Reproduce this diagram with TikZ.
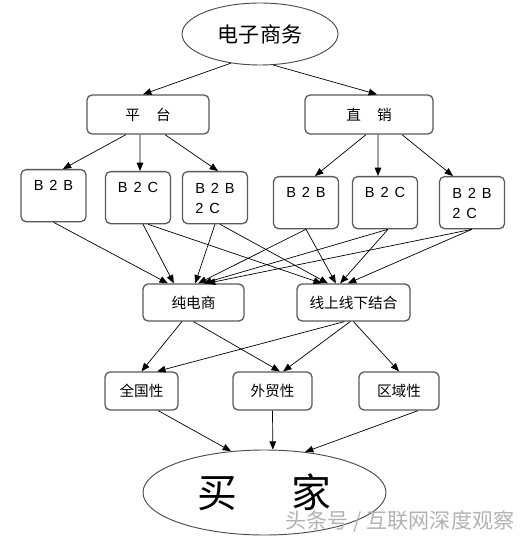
\documentclass[tikz,border=0pt]{standalone}
\usepackage{fontspec}
\setmainfont{Noto Sans CJK SC}
\newfontfamily\latin[LetterSpace=40]{Liberation Sans}
\usetikzlibrary{arrows.meta,shapes.geometric}

\tikzset{
  box/.style={draw=black!65, line width=1.1pt, rounded corners=1.5mm, inner sep=0pt, fill=white,
    minimum height=1.14cm, font=\fontsize{12.5}{14}\selectfont},
  sub/.style={box, anchor=north, minimum width=1.95cm, text height=0.62cm, text depth=0.94cm,
    align=left, font=\latin\fontsize{12.5}{17}\selectfont},
  subtwo/.style={sub, text height=1.25cm, text depth=0.31cm},
  oval/.style={draw=black!70, line width=0.8pt, ellipse, inner sep=0pt},
  arr/.style={-{Triangle[length=2.5mm,width=2mm]}, line width=0.6pt},
}

\begin{document}
\begin{tikzpicture}[x=0.03cm,y=-0.03cm]
\useasboundingbox (0,0) rectangle (531,539);

\node (dz) at (260,34) [oval,minimum width=4.68cm,minimum height=1.86cm,font=\fontsize{18}{18}\selectfont] {电子商务};
\node (pt) at (148,114.5) [box,minimum width=3.66cm,minimum height=1.17cm] {平\hspace{1.1em}台};
\node (zx) at (369,114.5) [box,minimum width=3.84cm,minimum height=1.17cm] {直\hspace{1.1em}销};

\node (pb1) at (53.5,169) [sub] {B2B};
\node (pc1) at (138,171) [sub] {B2C};
\node (pbc1) at (215,171) [subtwo] {B2B\\2C};
\node (pb2) at (306,176) [sub] {B2B};
\node (pc2) at (385,176) [sub] {B2C};
\node (pbc2) at (472,176) [subtwo] {B2B\\2C};

\node (cd) at (193.5,302.5) [box,minimum width=3.03cm,minimum height=1.11cm] {纯电商};
\node (xs) at (353.5,302.5) [box,minimum width=3.39cm,minimum height=1.11cm] {线上线下结合};

\node (qg) at (141.5,391) [box,minimum width=2.19cm] {全国性};
\node (wm) at (272.5,391) [box,minimum width=2.37cm] {外贸性};
\node (qy) at (399,391) [box,minimum width=2.4cm] {区域性};

\node (mj) at (264.5,492.5) [oval,minimum width=7.29cm,minimum height=2.55cm,font=\fontsize{34}{34}\selectfont] {买\hspace{1.35em}家};

\draw [arr] (dz.225) -- ([xshift=-0.15cm]pt.north);
\draw [arr] (dz.293) -- ([xshift=0.24cm]zx.north);

\draw [arr] ([xshift=-0.66cm]pt.south) -- ([xshift=0.28cm]pb1.north);
\draw [arr] ([xshift=-0.24cm]pt.south) -- ([xshift=0.06cm]pc1.north);
\draw [arr] ([xshift=0.51cm]pt.south) -- ([xshift=0.09cm]pbc1.north);
\draw [arr] ([xshift=-0.09cm]zx.south) -- ([xshift=0.27cm]pb2.north);
\draw [arr] ([xshift=0.27cm]zx.south) -- ([xshift=-0.21cm]pc2.north);
\draw [arr] ([xshift=0.99cm]zx.south) -- ([xshift=-0.57cm]pbc2.north);

\draw [arr] (pb1.south) -- ([xshift=-0.77cm]cd.north);
\draw [arr] ([xshift=0.15cm]pc1.south) -- ([xshift=-0.59cm]cd.north);
\draw [arr] ([xshift=0.3cm]pc1.south) -- ([xshift=-0.95cm]xs.north);
\draw [arr] (pbc1.south) -- ([xshift=0.05cm]cd.north);
\draw [arr] ([xshift=0.15cm]pbc1.south) -- ([xshift=-0.77cm]xs.north);
\draw [arr] (pb2.south) -- ([xshift=0.14cm]cd.north);
\draw [arr] (pb2.south) -- ([xshift=-0.53cm]xs.north);
\draw [arr] ([xshift=0.09cm]pc2.south) -- ([xshift=0.29cm]cd.north);
\draw [arr] ([xshift=0.09cm]pc2.south) -- ([xshift=-0.4cm]xs.north);
\draw [arr] (pbc2.south) -- ([xshift=0.4cm]cd.north);
\draw [arr] (pbc2.south) -- ([xshift=-0.17cm]xs.north);

\draw [arr] ([xshift=-0.35cm]cd.south) -- (qg.north);
\draw [arr] (cd.south) -- ([xshift=0.22cm]wm.north);
\draw [arr] ([xshift=-0.28cm]xs.south) -- ([xshift=0.47cm]qg.north);
\draw [arr] ([xshift=-0.1cm]xs.south) -- ([xshift=0.32cm]wm.north);
\draw [arr] (xs.south) -- (qy.north);

\draw [arr] ([xshift=0.5cm]qg.south) -- (mj.129);
\draw [arr] (wm.south) -- (mj.79);
\draw [arr] ([xshift=0.57cm]qy.south) -- (mj.45);

\node (wz) at (400,521) [text=black!30,font=\fontsize{18}{18}\selectfont] {头条号 / 互联网深度观察};

\end{tikzpicture}
\end{document}
